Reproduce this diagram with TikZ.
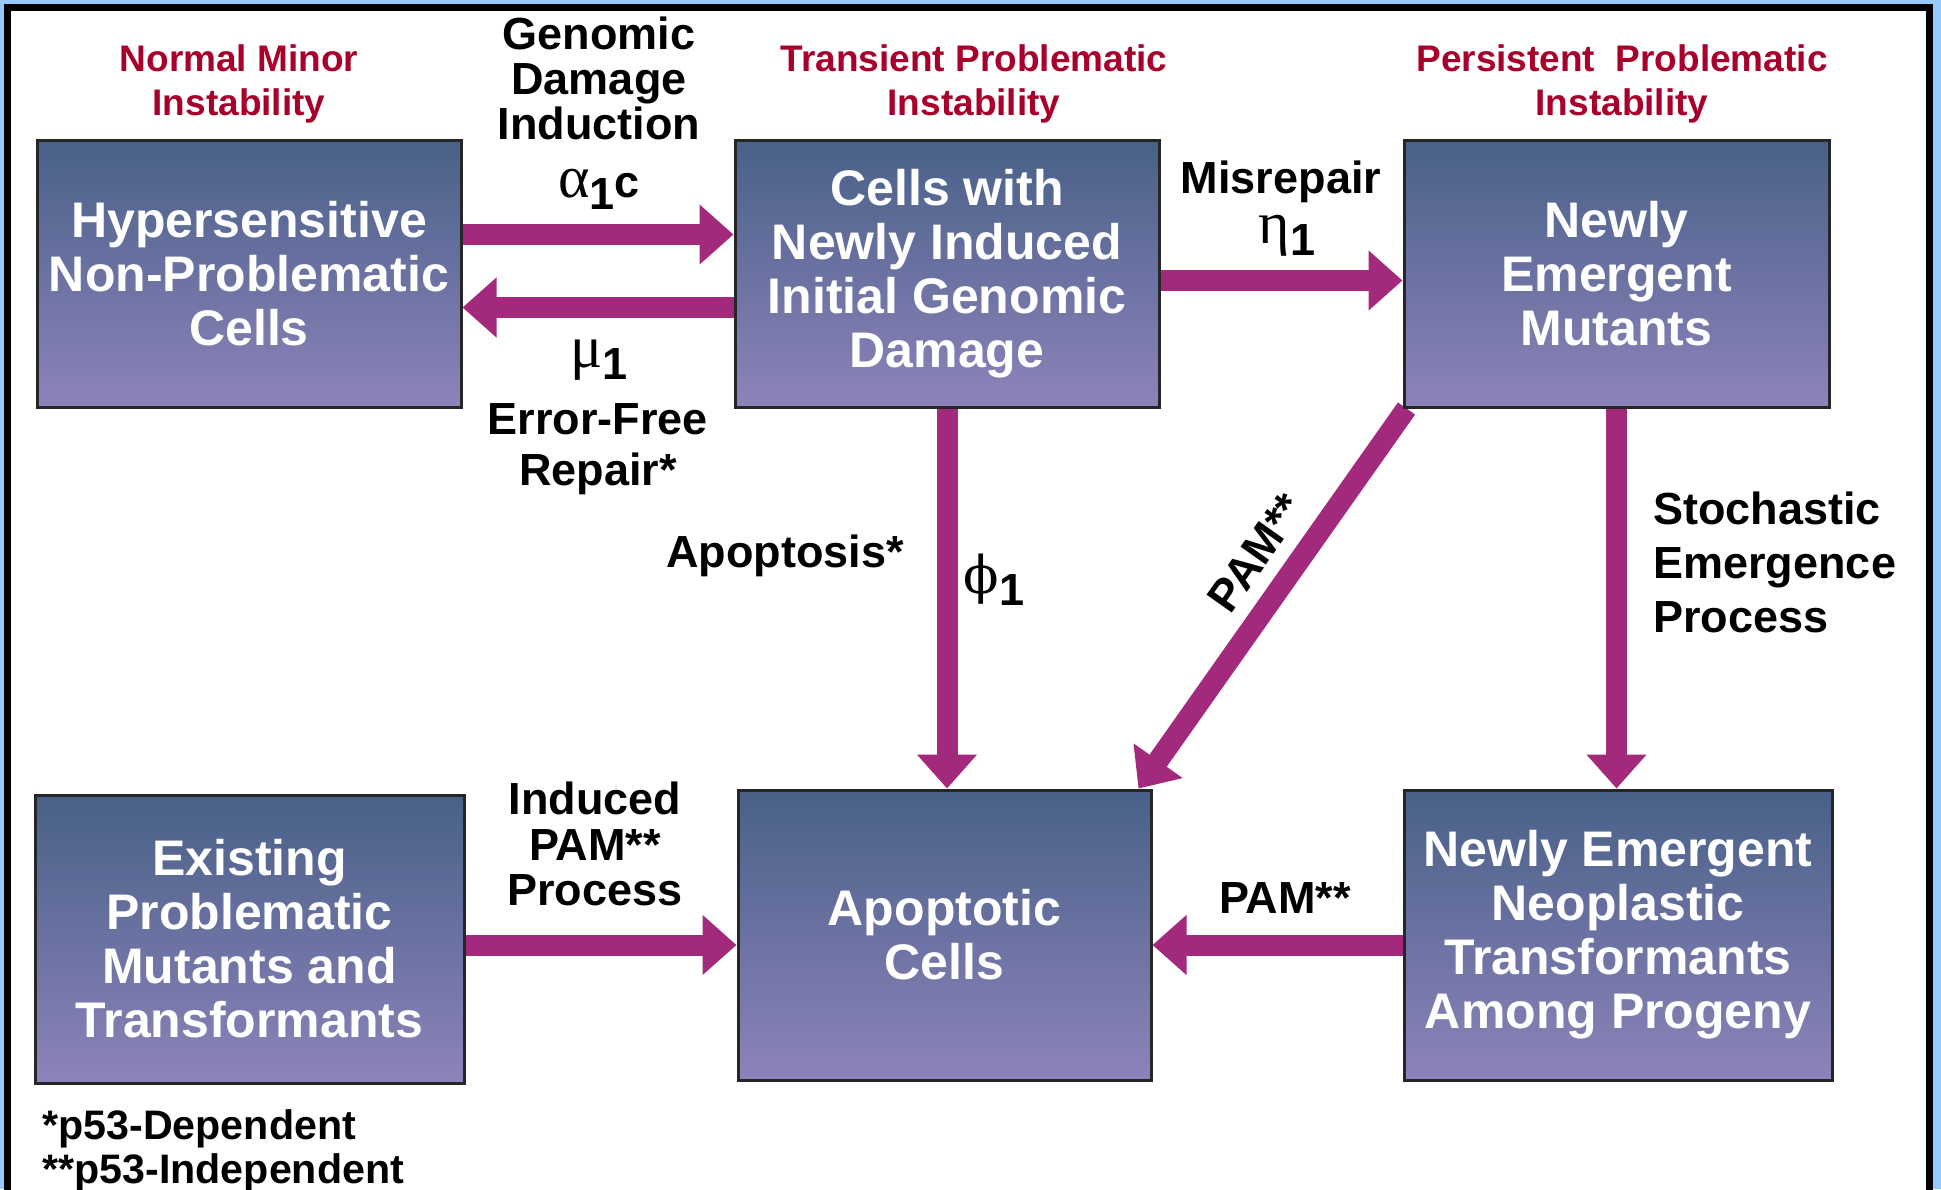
\documentclass[tikz,border=0pt]{standalone}
\usepackage{fontspec}
\setmainfont{Liberation Sans}
\newfontfamily\grk{Liberation Serif}
\newfontfamily\grkb{DejaVu Serif}
\usetikzlibrary{arrows.meta,calc}
\definecolor{skyb}{RGB}{150,200,250}
\definecolor{arrc}{RGB}{163,41,124}
\definecolor{hdr}{RGB}{168,0,42}
\definecolor{boxtop}{RGB}{72,97,136}
\definecolor{boxbot}{RGB}{141,131,186}
\pgfdeclarelayer{back}
\pgfdeclarelayer{mid}
\pgfsetlayers{back,mid,main}
\newcommand{\sub}[1]{\raisebox{-6pt}{#1}}
\begin{document}
\begin{tikzpicture}[x=0.5pt,y=-0.5pt,
  cell/.style={draw=black!85, line width=1.5pt, top color=boxtop, bottom color=boxbot,
    text=white, font=\fontsize{25}{27}\selectfont\bfseries, align=center, inner sep=0pt},
  arr/.style={draw=arrc, fill=arrc, line width=10.5pt, line cap=butt, -{Triangle[length=17pt,width=29pt]}},
  lab/.style={font=\fontsize{22.5}{#1}\selectfont\bfseries, align=center, inner sep=0pt},
  lab/.default=22.5,
  hdrs/.style={text=hdr, font=\fontsize{18.5}{22}\selectfont\bfseries, align=center, inner sep=0pt},
]
\useasboundingbox (0,0) rectangle (1941,1189);
\begin{pgfonlayer}{back}
\clip (0,0) rectangle (1941,1189);
\fill[skyb] (0,0) rectangle (1941,1189);
\draw[line width=3.5pt, fill=white] (7.5,7) rectangle (1929,1240);
\end{pgfonlayer}

% boxes
\node[cell, minimum width=212pt, minimum height=133.5pt] (A) at (249,273.5) {Hypersensitive\\Non-Problematic\\Cells};
\node[cell, minimum width=212pt, minimum height=133.5pt] (B) at (947,273.5) {Cells with\\Newly Induced\\Initial Genomic\\Damage};
\node[cell, minimum width=212.5pt, minimum height=133.5pt] (C) at (1616.5,273.5) {Newly\\Emergent\\Mutants};
\node[cell, minimum width=214.5pt, minimum height=144pt] (D) at (249.5,939) {Existing\\Problematic\\Mutants and\\Transformants};
\node[cell, minimum width=206.5pt, minimum height=145pt] (E) at (944.5,935) {Apoptotic\\Cells};
\node[cell, minimum width=214pt, minimum height=145pt] (F) at (1618,935) {Newly Emergent\\Neoplastic\\Transformants\\Among Progeny};

% connectors
\begin{pgfonlayer}{mid}
\draw[arr] ([yshift=19.5pt]A.east) -- ([yshift=19.5pt]B.west);
\draw[arr] ([yshift=-17pt]B.west) -- ([yshift=-17pt]A.east);
\draw[arr] ([yshift=-3.5pt]B.east) -- ([yshift=-3.5pt]C.west);
\draw[arr] (B.south) -- (B.south |- E.north);
\draw[arr] (C.south) -- (C.south |- F.north);
\draw[arr] ([xshift=2pt]C.south west) -- ([xshift=-7pt]E.north east);
\coordinate (dy) at ([yshift=-3pt]D.east);
\draw[arr] (dy) -- (dy -| E.west);
\coordinate (fy) at ([yshift=-5pt]F.west);
\draw[arr] (fy) -- (fy -| E.east);
\end{pgfonlayer}

% headers
\node[hdrs] (h1) at (239,84) {Normal Minor\\Instability};
\node[hdrs] (h2) at (974,84) {Transient Problematic\\Instability};
\node[hdrs] (h3) at (1622,84) {Persistent\ \ Problematic\\Instability};

% labels
\node[lab] (gdi) at (599,78) {Genomic\\Damage\\Induction};
\node[lab] (al) at (599,189) {{\grk\mdseries\fontsize{30}{30}\selectfont α}\sub{1}c};
\node[lab] (mu) at (599,360) {{\grk\mdseries\fontsize{30}{30}\selectfont μ}\sub{1}};
\node[lab=25.5] (er) at (598,449) {Error-Free\\Repair*};
\node[lab] (mis) at (1281,182) {Misrepair};
\node[lab] (eta) at (1287,236) {{\grk\mdseries\fontsize{30}{30}\selectfont η}\sub{1}};
\node[lab] (apo) at (785,556) {Apoptosis*};
\node[lab] (phi) at (994,580) {{\grkb\mdseries\fontsize{26}{26}\selectfont ϕ}\sub{1}};
\node[lab, rotate=54.7] (pam1) at (1256,553) {PAM**};
\node[lab=27, align=left, anchor=west] (sto) at (1653,562) {Stochastic\\Emergence\\Process};
\node[lab=22.7] (ind) at (595,844) {Induced\\PAM**\\Process};
\node[lab] (pam2) at (1285,898) {PAM**};
\node[font=\fontsize{20.6}{21.7}\selectfont\bfseries, align=left, anchor=west, inner sep=0pt] (fn) at (42,1151) {*p53-Dependent\\**p53-Independent};
\end{tikzpicture}
\end{document}
